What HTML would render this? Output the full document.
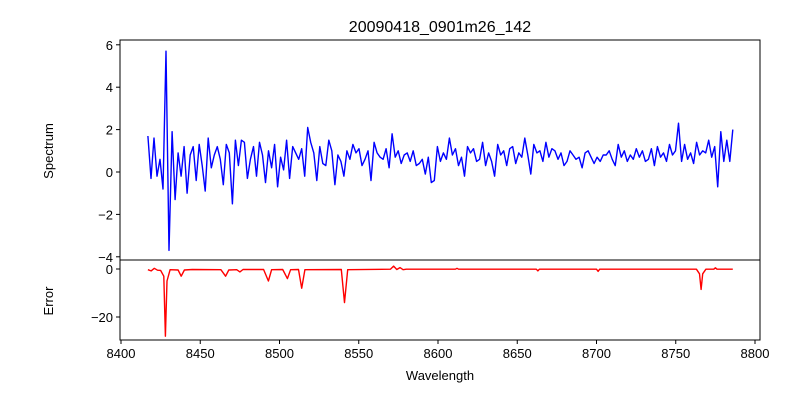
<!DOCTYPE html>
<html><head><meta charset="utf-8"><style>
body{margin:0;background:#fff;font-family:"Liberation Sans","DejaVu Sans",sans-serif}
svg text{font-family:"Liberation Sans","DejaVu Sans",sans-serif;font-size:13px;fill:#000}
</style></head><body>
<svg id="c" width="800" height="400" xmlns="http://www.w3.org/2000/svg">
<rect width="800" height="400" fill="#fff"/>
<text x="440" y="32" text-anchor="middle" font-size="16" style="font-size:16px">20090418_0901m26_142</text>
<text transform="translate(53,151) rotate(-90)" text-anchor="middle">Spectrum</text>
<text transform="translate(53,301) rotate(-90)" text-anchor="middle">Error</text>
<text x="440" y="380" text-anchor="middle">Wavelength</text>
<g id="g"></g>
</svg>
<script>
const specStart = 8417, specEnd = 8786;
const specValues = [1.7,-0.3,1.6,-0.2,0.6,-0.8,5.7,-3.7,1.9,-1.3,0.9,-0.2,1.2,-1.0,0.8,1.2,-0.4,1.3,0.3,-0.9,1.6,0.2,0.8,1.2,0.6,-0.6,1.3,0.9,-1.5,1.5,0.3,1.5,1.4,-0.3,0.6,1.2,-0.2,1.4,0.8,-0.5,1.0,0.2,1.3,-0.7,0.7,0.1,1.5,-0.3,1.2,0.9,0.6,1.1,-0.2,2.1,1.4,0.9,-0.4,1.2,0.4,0.3,1.5,1.0,-0.6,0.8,0.5,-0.2,1.0,0.6,1.3,0.9,1.1,0.3,0.6,1.0,-0.4,1.4,0.9,0.7,0.6,1.1,0.2,1.8,0.7,1.0,0.4,0.8,0.9,0.5,1.0,0.3,0.4,0.6,-0.1,0.7,-0.5,-0.4,1.2,0.5,0.9,0.6,1.6,0.8,1.1,0.3,0.7,-0.2,1.2,0.9,1.1,0.5,0.6,1.4,0.3,0.9,0.5,-0.2,1.3,0.8,1.0,0.3,1.1,1.2,0.4,0.9,0.7,1.6,0.8,-0.1,1.3,0.9,1.0,0.5,1.4,0.7,1.1,1.0,0.6,0.9,0.3,0.5,1.0,0.8,0.6,0.7,0.2,0.9,1.0,0.7,0.4,0.7,0.5,0.8,0.8,1.0,0.6,0.3,1.3,0.7,1.0,0.5,0.8,0.6,1.1,0.7,1.0,0.5,0.6,1.1,0.3,1.2,0.7,0.9,0.5,1.3,0.8,1.0,2.3,0.5,1.3,0.6,0.9,0.4,1.4,0.8,1.0,0.9,1.5,0.7,1.2,-0.7,1.9,0.5,1.5,0.5,2.0];
const errWave = [8417,8419,8421,8423,8425,8427,8428,8429,8431,8436,8438,8440,8445,8463,8466,8468,8473,8475,8477,8490,8493,8495,8502,8505,8507,8512,8514,8516,8539,8541,8543,8570,8572,8574,8576,8578,8580,8611,8612,8613,8662,8663,8664,8700,8701,8702,8763,8765,8766,8767,8769,8774,8775,8776,8786];
const errValues = [-0.3,-0.8,0.3,-0.5,-0.6,-3,-28,-5,-0.3,-0.4,-3,-0.4,-0.2,-0.3,-3,-0.4,-0.3,-1.2,-0.2,-0.2,-5,-0.3,-0.2,-4,-0.3,-0.2,-8,-0.3,-0.2,-14,-0.3,-0.1,1.2,-0.2,0.6,-0.3,-0.1,-0.1,0.3,-0.1,-0.1,-0.8,-0.1,-0.1,-1,-0.1,-0.1,-2,-8.5,-2,-0.1,-0.1,0.5,-0.1,-0.1];
const xTicks = [8400,8450,8500,8550,8600,8650,8700,8750,8800];
const specTicks = [-4,-2,0,2,4,6];
const errTicks = [-20,0];

const NS="http://www.w3.org/2000/svg", g=document.getElementById('g');
const L=120,R=760,T1=40,B1=260,B2=340;
const X=w=>121+(w-8400)*1.585;
const Y1=v=>172-v*21.2;
const Y2=v=>269-v*2.4;
const specStep=(specEnd-specStart)/(specValues.length-1);
function mk(t,a){const e=document.createElementNS(NS,t);for(const k in a)e.setAttribute(k,a[k]);g.appendChild(e);return e;}
let p=specValues.map((v,i)=>X(specStart+i*specStep).toFixed(1)+','+Y1(v).toFixed(1)).join(' ');
const sl=mk('polyline',{points:p,fill:'none',stroke:'#0000ff','stroke-width':1.4,'stroke-linejoin':'round'});


p=errWave.map((w,i)=>X(w).toFixed(1)+','+Y2(errValues[i]).toFixed(1)).join(' ');
const el=mk('polyline',{points:p,fill:'none',stroke:'#ff0000','stroke-width':1.4,'stroke-linejoin':'round'});


const f1=mk('rect',{x:L,y:T1,width:R-L,height:B1-T1,fill:'none',stroke:'#000','stroke-width':1});


const f2=mk('rect',{x:L,y:B1,width:R-L,height:B2-B1,fill:'none',stroke:'#000','stroke-width':1});


xTicks.forEach(w=>{const x=X(w);mk('line',{x1:x,x2:x,y1:B2,y2:B2+4,stroke:'#000'});
 const t=mk('text',{x:x,y:B2+18,'text-anchor':'middle'});t.textContent=w;
 
 });
specTicks.forEach(v=>{const y=Y1(v);mk('line',{x1:L-4,x2:L,y1:y,y2:y,stroke:'#000'});
 const t=mk('text',{x:L-7,y:y+5,'text-anchor':'end'});t.textContent=v<0?'\u2212'+(-v):v;
 
 });
errTicks.forEach(v=>{const y=Y2(v);mk('line',{x1:L-4,x2:L,y1:y,y2:y,stroke:'#000'});
 const t=mk('text',{x:L-7,y:y+5,'text-anchor':'end'});t.textContent=v<0?'\u2212'+(-v):v;
 
 });
</script>
</body></html>
